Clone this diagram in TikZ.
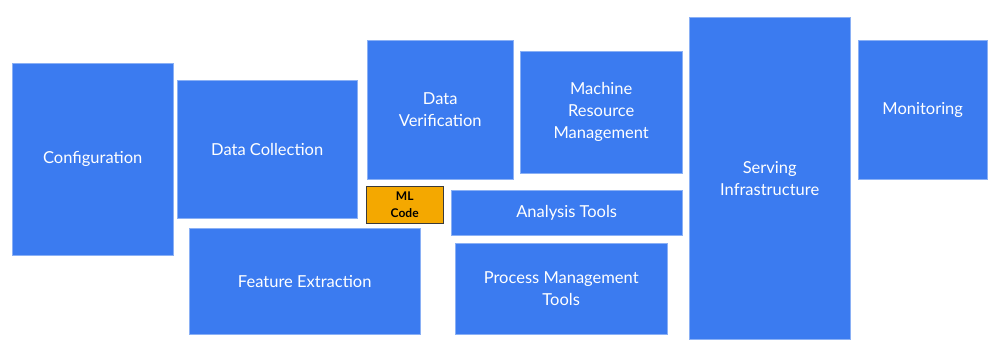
\documentclass[tikz,border=0pt]{standalone}
\usepackage{fontspec}
\setmainfont{Lato}
\usepackage{xcolor}
\usetikzlibrary{positioning}
\definecolor{compblue}{HTML}{3B7BF0}
\definecolor{compedge}{HTML}{8AB0F5}
\definecolor{mlorange}{HTML}{F4A800}
\definecolor{mledge}{HTML}{3A3A3A}

\begin{document}
\begin{tikzpicture}[
    x=1pt, y=-1pt,
    comp/.style={draw=compedge, fill=compblue, text=white,
                 font=\fontsize{16.5}{22}\selectfont,
                 anchor=north west, inner sep=2pt, align=center},
    mlbox/.style={draw=mledge, fill=mlorange, text=black,
                  font=\fontsize{12}{17}\selectfont\bfseries,
                  anchor=north west, inner sep=1pt, align=center},
  ]
  \useasboundingbox (0,0) rectangle (999,350);

  % left-hand components
  \node[comp, minimum width=161, minimum height=192] (config) at (12,63) {Configuration};
  \node[comp, minimum width=180, minimum height=138] (collect) at (177,80) {Data Collection};
  \node[comp, minimum width=231, minimum height=106] (feature) at (189,228) {Feature Extraction};
  \node[comp, minimum width=146, minimum height=139] (verify) at (367,40) {Data\\Verification};

  % the small piece in the middle
  \node[mlbox, minimum width=77, minimum height=37] (mlcode) at (366,186) {ML\\Code};

  % middle components
  \node[comp, minimum width=162, minimum height=122] (machine) at (520,51) {Machine\\Resource\\Management};
  \node[comp, minimum width=231, minimum height=45] (analysis) at (451,190) {Analysis Tools};
  \node[comp, minimum width=212, minimum height=91] (process) at (455,243) {Process Management\\Tools};

  % right-hand components
  \node[comp, minimum width=161, minimum height=322] (serving) at (689,17) {Serving\\Infrastructure};
  \node[comp, minimum width=129, minimum height=139] (monitor) at (858,40) {Monitoring};
\end{tikzpicture}
\end{document}
